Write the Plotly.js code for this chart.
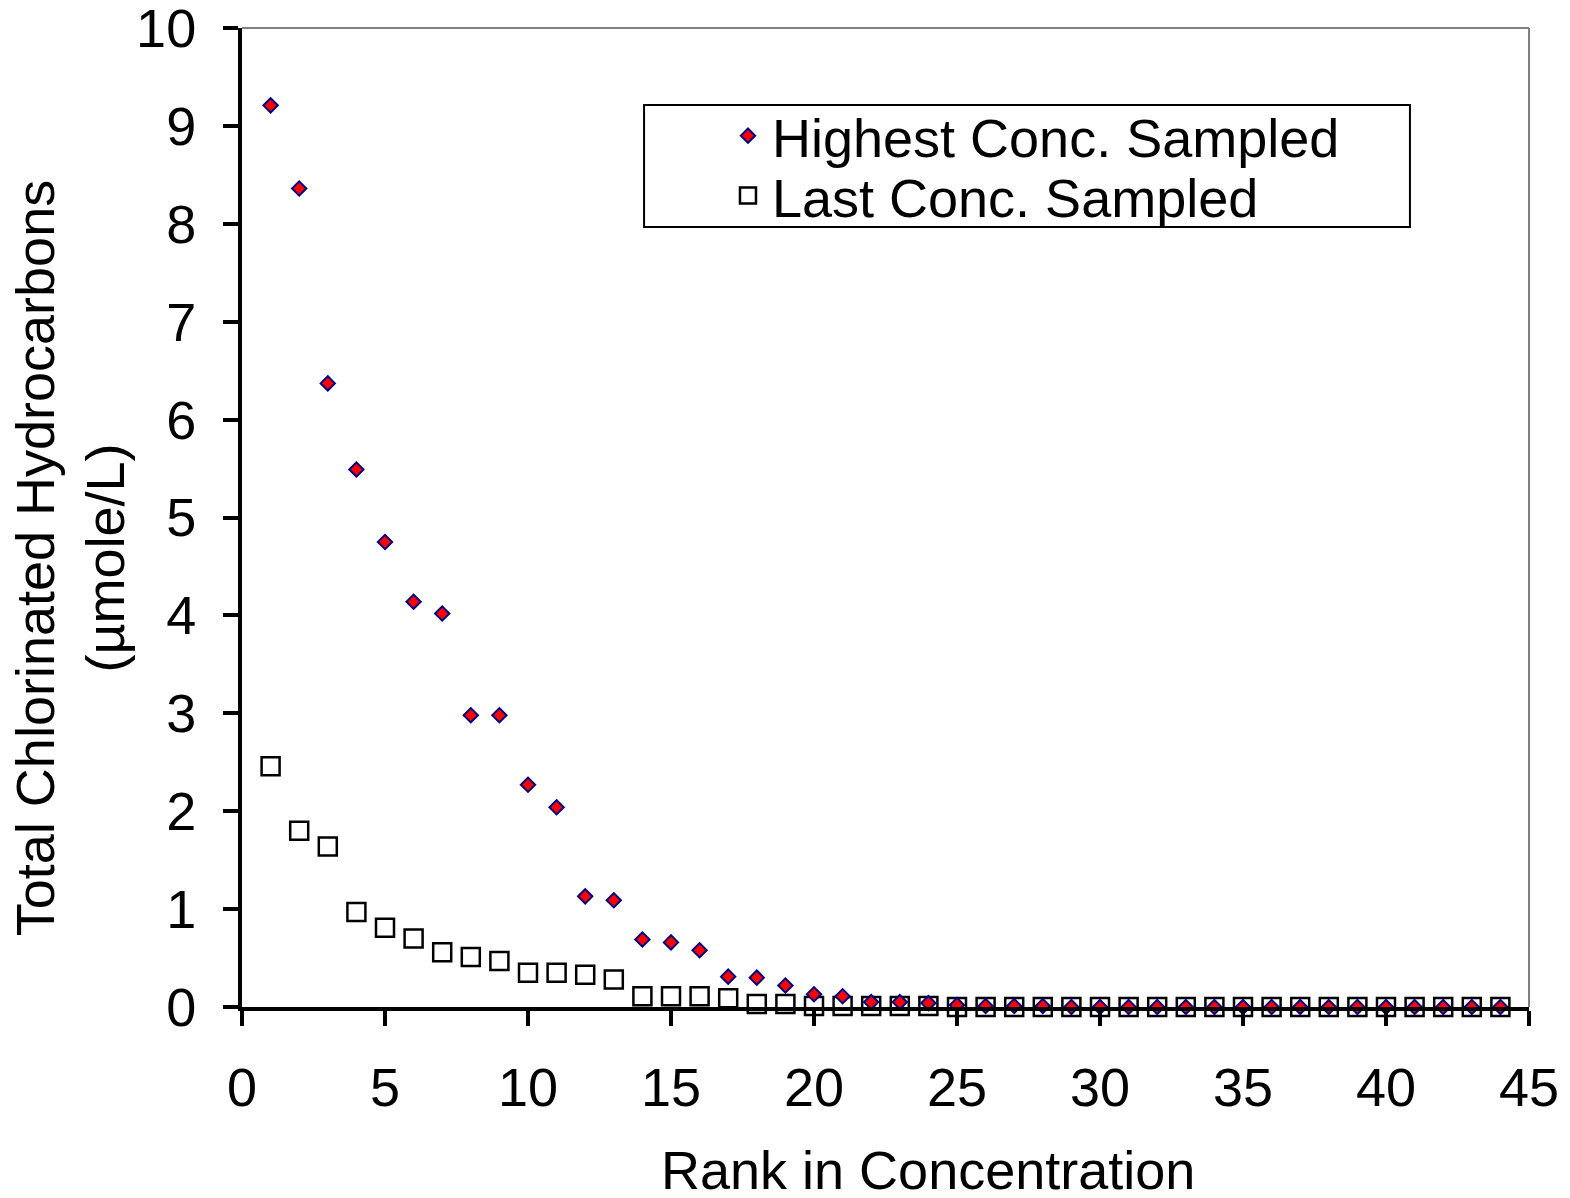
<!DOCTYPE html>
<html>
<head>
<meta charset="utf-8">
<script src="https://cdn.plot.ly/plotly-3.0.1.min.js"></script>
<style>html,body{margin:0;padding:0;background:#fff;}#chart{width:1570px;height:1198px;}</style>
</head>
<body>
<div id="chart"></div>
<script>
// Data
const rank = [1,2,3,4,5,6,7,8,9,10,11,12,13,14,15,16,17,18,19,20,21,22,23,24,25,26,27,28,29,30,31,32,33,34,35,36,37,38,39,40,41,42,43,44];
const highestConc = [9.21,8.36,6.37,5.49,4.75,4.14,4.02,2.98,2.98,2.27,2.04,1.13,1.09,0.69,0.66,0.58,0.31,0.30,0.22,0.13,0.11,0.05,0.05,0.04,0.02,0.01,0.01,0.01,0,0,0,0,0,0,0,0,0,0,0,0,0,0,0,0];
const lastConc = [2.46,1.80,1.64,0.97,0.81,0.70,0.56,0.51,0.47,0.35,0.35,0.33,0.28,0.11,0.11,0.11,0.09,0.03,0.03,0.01,0.01,0.01,0.01,0.01,0,0,0,0,0,0,0,0,0,0,0,0,0,0,0,0,0,0,0,0];
const seriesNames = ["Highest Conc. Sampled", "Last Conc. Sampled"];
const xTitle = "Rank in Concentration";
const yTitle = "Total Chlorinated Hydrocarbons<br>(µmole/L)";

const FONT = "Liberation Sans, Arial, sans-serif";
const FS = 54;

const traces = [
  {
    x: rank, y: lastConc, type: "scatter", mode: "markers", name: seriesNames[1],
    marker: {symbol: "square-open", size: 18, color: "#000000", line: {width: 2.5, color: "#000000"}},
    cliponaxis: false, legend: "legend2"
  },
  {
    x: rank, y: highestConc, type: "scatter", mode: "markers", name: seriesNames[0],
    marker: {symbol: "diamond", size: 11, color: "#FF0000", line: {width: 2, color: "#000080"}},
    cliponaxis: false, legend: "legend"
  }
];

const layout = {
  width: 1570, height: 1198,
  margin: {l: 242, r: 41, t: 28, b: 191},
  paper_bgcolor: "#ffffff", plot_bgcolor: "#ffffff",
  font: {family: FONT, size: FS, color: "#000000"},
  showlegend: true,
  xaxis: {
    range: [0, 45], dtick: 5, tick0: 0, showgrid: false, zeroline: false,
    showline: true, linewidth: 4, linecolor: "#000000",
    ticks: "outside", ticklen: 15, tickwidth: 4, tickcolor: "#000000",
    tickfont: {family: FONT, size: FS, color: "#000000"}, ticklabelstandoff: 15,
    ticklabeloverflow: "allow"
  },
  yaxis: {
    range: [0, 10], dtick: 1, tick0: 0, showgrid: false, zeroline: false,
    showline: true, linewidth: 4, linecolor: "#000000",
    ticks: "outside", ticklen: 15, tickwidth: 4, tickcolor: "#000000",
    tickfont: {family: FONT, size: FS, color: "#000000"}, ticklabelstandoff: 16,
    ticklabeloverflow: "allow"
  },
  legend: {
    x: 0.3745, y: 0.8896, xanchor: "left", yanchor: "middle", itemwidth: 38,
    bgcolor: "rgba(0,0,0,0)", borderwidth: 0,
    font: {family: FONT, size: FS, color: "#000000"}
  },
  legend2: {
    x: 0.3745, y: 0.8284, xanchor: "left", yanchor: "middle", itemwidth: 38,
    bgcolor: "rgba(0,0,0,0)", borderwidth: 0,
    font: {family: FONT, size: FS, color: "#000000"}
  },
  shapes: [
    {type: "line", xref: "paper", yref: "paper", x0: 0, x1: 1, y0: 1, y1: 1, line: {color: "#808080", width: 2}, layer: "below"},
    {type: "line", xref: "paper", yref: "paper", x0: 1, x1: 1, y0: 0, y1: 1, line: {color: "#808080", width: 2}, layer: "below"},
    {type: "rect", xref: "paper", yref: "paper", x0: 0.3124, x1: 0.9075, y0: 0.7967, y1: 0.9213, line: {color: "#000000", width: 2}, fillcolor: "rgba(0,0,0,0)"}
  ],
  annotations: [
    {text: xTitle, xref: "paper", yref: "paper", x: 0.5327, y: -0.1666, xanchor: "center", yanchor: "middle", showarrow: false, font: {family: FONT, size: FS, color: "#000000"}},
    {text: yTitle, xref: "paper", yref: "paper", x: -0.1335, y: 0.4586, xanchor: "center", yanchor: "middle", textangle: -90, showarrow: false, font: {family: FONT, size: FS, color: "#000000"}}
  ]
};

Plotly.newPlot("chart", traces, layout, {displayModeBar: false, staticPlot: true});
</script>
</body>
</html>
